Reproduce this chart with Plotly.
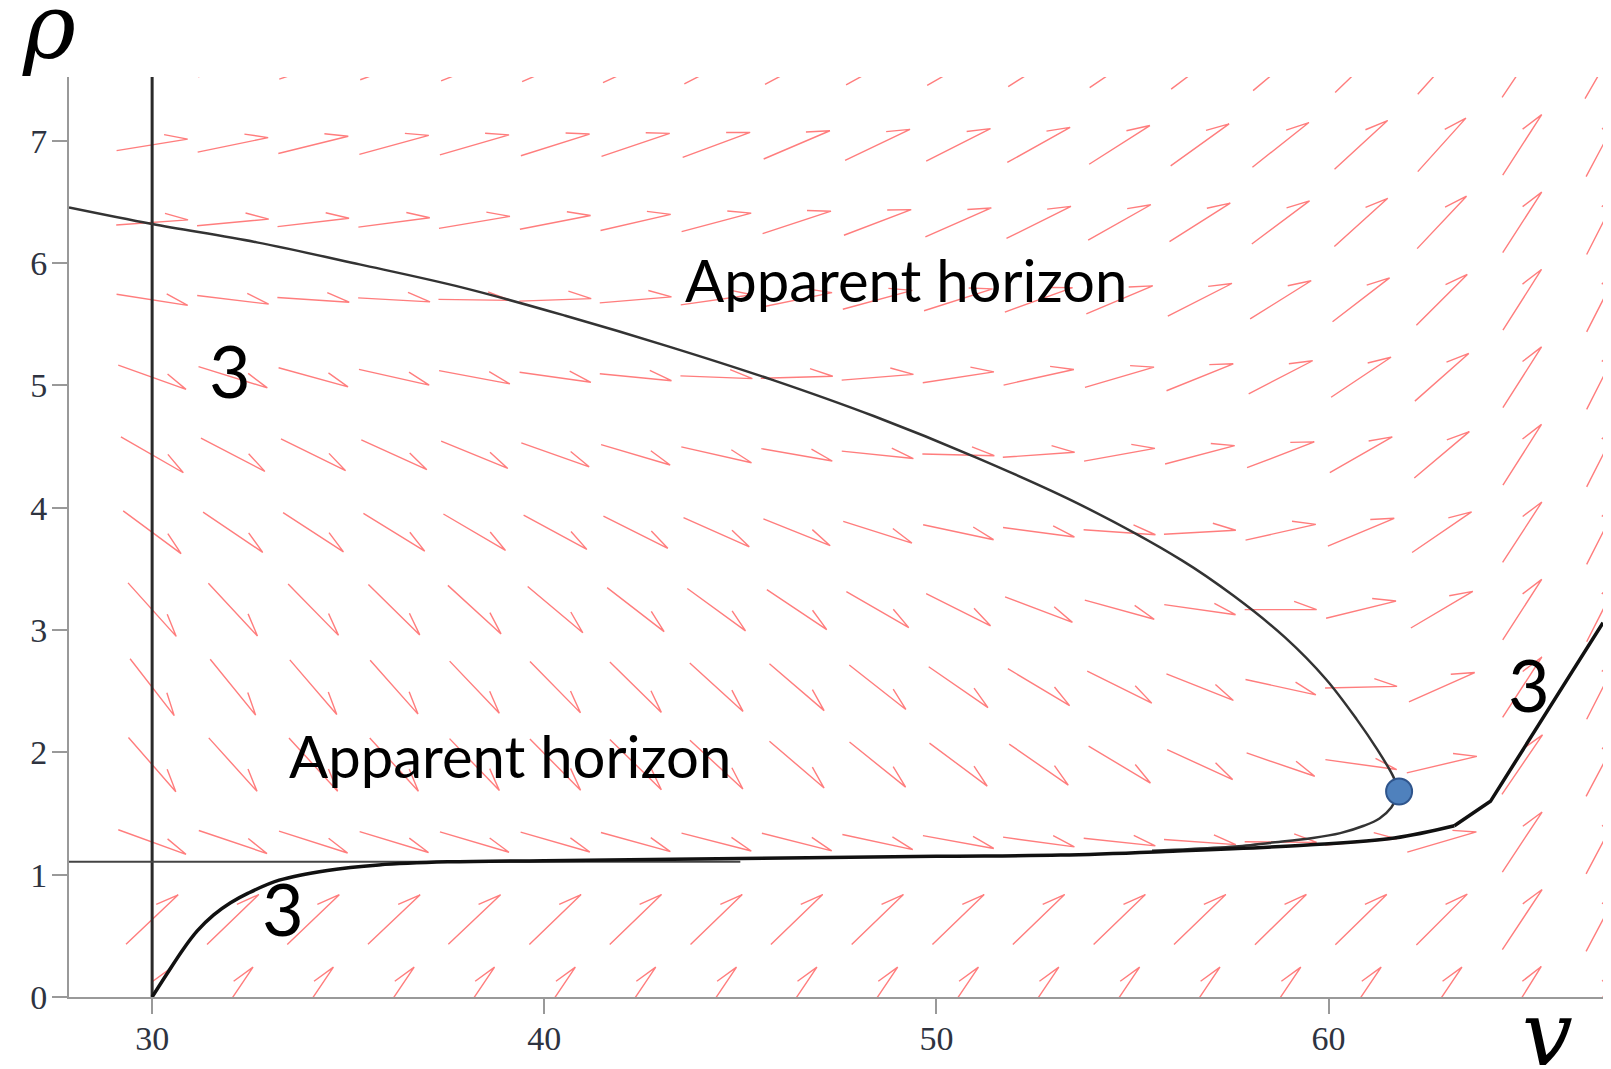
import math
import plotly.graph_objects as go

# ---------------- data ----------------
# direction-field grid (v columns, rho rows)
v_grid = [30.0, 32.06, 34.11, 36.17, 38.22, 40.28, 42.33, 44.39, 46.44, 48.5,
          50.56, 52.61, 54.67, 56.72, 58.78, 60.83, 62.89, 64.94, 67.0]
rho_grid = [0.0, 0.633, 1.267, 1.9, 2.533, 3.167, 3.8, 4.433, 5.067, 5.7,
            6.333, 6.967, 7.6]

# on-screen arrow angles (degrees, counter-clockwise from +v) for each row
ang_r0 = [56, 56, 56, 56, 56, 56, 56, 56, 56, 56, 56, 56, 56, 56, 56, 56, 56, 58, 62]
ang_r1 = [43.5, 44, 43.7, 43.5, 43.5, 44, 44, 44, 44, 44, 44, 44, 44, 44, 44.4, 44.4, 45, 56.5, 62]
ang_r2 = [-19.9, -18.7, -17.7, -16.9, -16.5, -16, -15.4, -14.4, -14.2, -12.1, -10.3, -7.8,
          -6.1, -4.1, -0.5, 5, 16.3, 56.5, 62]
ang_r3 = [-48.9, -47.9, -47.5, -47.5, -46.2, -45.3, -44.4, -42.7, -40.6, -38.8, -36.7, -34.8,
          -30.8, -24.6, -18.9, -7.9, 13.3, 55.7, 62]
ang_r4 = [-52.2, -50.9, -49.3, -48.4, -46.4, -45.5, -44.4, -42.3, -40.6, -38.2, -34.6, -30.9,
          -26.3, -21.6, -12.3, 1.3, 24, 57, 63]
ang_r5 = [-48, -47, -45.6, -44.5, -42.4, -40, -37.7, -36, -33.7, -29.9, -26.6, -20.7,
          -15.4, -8.1, 0, 13.8, 30.6, 57.2, 63]
ang_r6 = [-36.5, -34, -33, -31.6, -30.4, -28.5, -26.6, -24, -21.9, -17.5, -12, -7.6,
          -4, 3.2, 12.6, 22.8, 34.3, 57, 63]
ang_r7 = [-29.9, -27.4, -26.2, -24.4, -22.2, -19.5, -16.5, -12.8, -9.9, -5.9, -1.4, 4,
          10.2, 14.8, 21, 29.8, 40.1, 57.6, 63]
ang_r8 = [-19.7, -17.2, -15.4, -12.7, -10.6, -8, -5.5, -2.2, 1.6, 4.6, 8.7, 12.5,
          16.4, 22, 27.3, 33.7, 41.5, 57.5, 63]
ang_r9 = [-8.9, -6.9, -3.8, -3.2, -0.8, 2, 4.8, 8.1, 11.5, 15.2, 17.7, 19.8,
          22.9, 27, 32, 37.6, 45, 57.6, 63]
ang_r10 = [4, 5.3, 6.7, 7.5, 9.6, 11, 12.9, 14.9, 18.2, 20.9, 23.7, 26.4,
           29.4, 32.4, 36.7, 42.1, 46.7, 57.2, 63]
ang_r11 = [9.2, 11.7, 13.8, 15.3, 16.2, 17.5, 18.7, 20.4, 23.1, 25.6, 26.8, 29.2,
           32.5, 35.7, 38.3, 42.5, 48, 57.2, 62]
ang_r12 = [12, 15, 19, 20, 22, 23, 25, 27, 28, 29, 30, 32, 34, 37, 40, 44, 48, 56, 60]
angle_rows = [ang_r0, ang_r1, ang_r2, ang_r3, ang_r4, ang_r5, ang_r6, ang_r7,
              ang_r8, ang_r9, ang_r10, ang_r11, ang_r12]

# apparent horizon (upper branch down to the marked point)
ah_v = [27.88, 30.0, 32.67, 35.29, 37.92, 40.54, 43.16, 45.78, 48.40, 51.02, 53.64,
        56.26, 57.58, 58.89, 59.93, 60.72, 61.25, 61.64, 61.80]
ah_rho = [6.455, 6.32, 6.17, 5.99, 5.80, 5.57, 5.32, 5.05, 4.75, 4.41, 4.03,
          3.57, 3.28, 2.94, 2.60, 2.27, 2.02, 1.81, 1.68]
# apparent horizon (lower branch from the marked point)
ahl_v = [61.80, 61.6, 61.3, 60.9, 60.3, 59.6, 58.5, 57.8, 56.5, 55.5]
ahl_rho = [1.68, 1.55, 1.46, 1.40, 1.34, 1.30, 1.26, 1.235, 1.21, 1.195]

# thick lower curve: smooth part, then the straight kinked part
low_v = [30.0, 30.4, 30.78, 31.15, 31.57, 32.0, 32.45, 33.24, 34.47, 35.78, 37.54,
         40.0, 45.0, 50.0, 53.17, 55.85, 59.46, 61.68, 63.21]
low_rho = [0.0, 0.2, 0.385, 0.54, 0.671, 0.77, 0.849, 0.955, 1.035, 1.080, 1.105,
           1.115, 1.132, 1.15, 1.16, 1.19, 1.243, 1.30, 1.40]
knee_v = [63.21, 64.13, 67.0]
knee_rho = [1.40, 1.60, 3.06]

# straight reference lines
vline_v = [30.0, 30.0]
vline_rho = [0.0, 7.6]
hline_v = [27.88, 45.0]
hline_rho = [1.106, 1.106]

# marked point
pt_v = [61.80]
pt_rho = [1.68]

x_ticks = [30, 40, 50, 60]
y_ticks = [0, 1, 2, 3, 4, 5, 6, 7]

# ---------------- layout geometry ----------------
W, H = 1603, 1061
M = dict(l=61, r=8, t=69, b=72)
x_range = [27.88, 67.0]
y_range = [0.0, 7.522]
px_x = (W - M["l"] - M["r"]) / (x_range[1] - x_range[0])
px_y = (H - M["t"] - M["b"]) / (y_range[1] - y_range[0])

ARROW_PX = 72
BARB_PX = 24
BARB_DEG = 20

ax_x, ax_y = [], []
for rho, row in zip(rho_grid, angle_rows):
    for v, ang in zip(v_grid, row):
        th = math.radians(ang)
        dx = 0.5 * ARROW_PX * math.cos(th) / px_x
        dy = 0.5 * ARROW_PX * math.sin(th) / px_y
        x0, y0, x1, y1 = v - dx, rho - dy, v + dx, rho + dy
        ph = th + math.pi - math.radians(BARB_DEG)
        bx = x1 + BARB_PX * math.cos(ph) / px_x
        by = y1 + BARB_PX * math.sin(ph) / px_y
        ax_x += [x0, x1, bx, None]
        ax_y += [y0, y1, by, None]

fig = go.Figure()
fig.add_trace(go.Scatter(x=ax_x, y=ax_y, mode="lines",
                         line=dict(color="rgb(255,125,125)", width=1.4),
                         hoverinfo="skip", showlegend=False))
fig.add_trace(go.Scatter(x=vline_v, y=vline_rho, mode="lines",
                         line=dict(color="#2a2a2a", width=3), showlegend=False))
fig.add_trace(go.Scatter(x=hline_v, y=hline_rho, mode="lines",
                         line=dict(color="#444444", width=2), showlegend=False))
fig.add_trace(go.Scatter(x=ah_v, y=ah_rho, mode="lines", line_shape="spline",
                         line=dict(color="#333333", width=2.5), showlegend=False))
fig.add_trace(go.Scatter(x=ahl_v, y=ahl_rho, mode="lines", line_shape="spline",
                         line=dict(color="#333333", width=2.5), showlegend=False))
fig.add_trace(go.Scatter(x=low_v, y=low_rho, mode="lines", line_shape="spline",
                         line=dict(color="#111111", width=3.5), showlegend=False))
fig.add_trace(go.Scatter(x=knee_v, y=knee_rho, mode="lines",
                         line=dict(color="#111111", width=3.5), showlegend=False))
fig.add_trace(go.Scatter(x=pt_v, y=pt_rho, mode="markers",
                         marker=dict(size=26, color="rgb(79,129,189)",
                                     line=dict(color="rgb(47,85,140)", width=2)),
                         showlegend=False))

sans = "Lato"
ann = [
    dict(x=49.22, y=5.866, text="Apparent horizon", font=dict(family=sans, size=58, color="black")),
    dict(x=39.13, y=1.977, text="Apparent horizon", font=dict(family=sans, size=58, color="black")),
    dict(x=31.995, y=5.123, text="3", font=dict(family=sans, size=72, color="black")),
    dict(x=33.34, y=0.727, text="3", font=dict(family=sans, size=72, color="black")),
    dict(x=65.11, y=2.561, text="3", font=dict(family=sans, size=72, color="black")),
]
for a in ann:
    fig.add_annotation(xref="x", yref="y", showarrow=False, xanchor="center",
                       yanchor="middle", **a)

# axis symbols (paper coordinates, outside the plotting area)
fig.add_annotation(xref="paper", yref="paper", x=-0.013, y=1.0559, text="<i>ρ</i>",
                   showarrow=False, xanchor="center", yanchor="middle",
                   font=dict(family="DejaVu Serif", size=90, color="black"))
fig.add_annotation(xref="paper", yref="paper", x=0.9638, y=-0.0401, text="<i>v</i>",
                   showarrow=False, xanchor="center", yanchor="middle",
                   font=dict(family="DejaVu Serif", size=90, color="black"))

tickfont = dict(family="Liberation Serif", size=34, color="#2e3340")
fig.update_layout(
    width=W, height=H, margin=M, template="none",
    paper_bgcolor="white", plot_bgcolor="white", showlegend=False,
    xaxis=dict(range=x_range, tickvals=x_ticks, ticks="outside", ticklen=15,
               tickwidth=2, tickcolor="#999999", showline=True, linecolor="#999999",
               linewidth=2, showgrid=False, zeroline=False, tickfont=tickfont,
               ticklabelstandoff=-5),
    yaxis=dict(range=y_range, tickvals=y_ticks, ticks="outside", ticklen=15,
               tickwidth=2, tickcolor="#999999", showline=True, linecolor="#999999",
               linewidth=2, showgrid=False, zeroline=False, tickfont=tickfont,
               ticklabelstandoff=-2),
)
fig.write_html("out.html")
